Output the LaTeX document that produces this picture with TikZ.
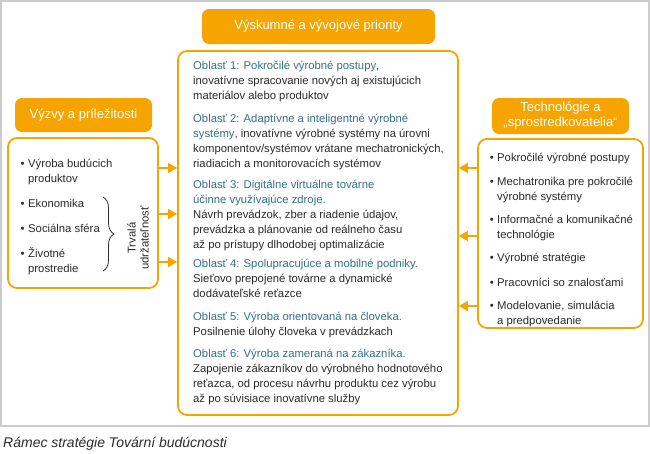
\documentclass[tikz,border=0pt]{standalone}
\usepackage{fontspec}
\setmainfont{Liberation Sans}
\usetikzlibrary{arrows.meta,decorations.pathreplacing}
\definecolor{org}{HTML}{F5A400}
\definecolor{hb}{HTML}{35708A}
\definecolor{txt}{HTML}{2B2B2B}
\definecolor{framegray}{HTML}{CCCCCC}
\newcommand\fst{\rule{0pt}{11pt}}
\newcommand\bul{\llap{•\hspace{3.5pt}}}
\tikzset{
  titlebox/.style={fill=org, rounded corners=7pt, text=white, align=center, inner sep=0pt,
    font=\fontsize{13}{15}\selectfont},
  panel/.style={draw=org, line width=1.8pt, rounded corners=9pt, fill=white, inner sep=0pt},
  para/.style={anchor=north west, inner sep=0pt, align=left, text=txt,
    font=\fontsize{11.3}{15}\selectfont},
  arr/.style={draw=org, line width=1.5pt, -{Triangle[length=9pt,width=10pt]}},
}
\begin{document}
\begin{tikzpicture}[x=1pt,y=-1pt]
\useasboundingbox (0,0) rectangle (650,453);
% outer frame
\draw[framegray, line width=1.5pt] (0.75,0.75) rectangle (649,426);

% panels
\node[panel, minimum width=150pt, minimum height=150pt] (left) at (83,213) {};
\node[panel, minimum width=280pt, minimum height=364pt] (center) at (318,233) {};
\node[panel, minimum width=165pt, minimum height=189pt] (right) at (560.5,233.5) {};

% titles
\node[titlebox, minimum width=233pt, minimum height=35pt] (head) at (318.5,26.5) {Výskumné a vývojové priority};
\node[titlebox, minimum width=137pt, minimum height=34pt] (ltitle) at (83.5,115) {Výzvy a príležitosti};
\node[titlebox, minimum width=137pt, minimum height=36pt] (rtitle) at (560.5,116) {Technológie a\\„sprostredkovatelia“};

% center paragraphs
\node[para] (o1) at (193,58) {\fst\textcolor{hb}{Oblasť 1: Pokročilé výrobné postupy},\\inovatívne spracovanie nových aj existujúcich\\materiálov alebo produktov};
\node[para] (o2) at (193,111) {\fst\textcolor{hb}{Oblasť 2: Adaptívne a inteligentné výrobné}\\\textcolor{hb}{systémy}, inovatívne výrobné systémy na úrovni\\komponentov/systémov vrátane mechatronických,\\riadiacich a monitorovacích systémov};
\node[para] (o3) at (193,177) {\fst\textcolor{hb}{Oblasť 3: Digitálne virtuálne továrne}\\\textcolor{hb}{účinne využívajúce zdroje.}\\Návrh prevádzok, zber a riadenie údajov,\\prevádzka a plánovanie od reálneho času\\až po prístupy dlhodobej optimalizácie};
\node[para] (o4) at (193,256) {\fst\textcolor{hb}{Oblasť 4: Spolupracujúce a mobilné podniky.}\\Sieťovo prepojené továrne a dynamické\\dodávateľské reťazce};
\node[para] (o5) at (193,309) {\fst\textcolor{hb}{Oblasť 5: Výroba orientovaná na človeka.}\\Posilnenie úlohy človeka v prevádzkach};
\node[para] (o6) at (193,346) {\fst\textcolor{hb}{Oblasť 6: Výroba zameraná na zákazníka.}\\Zapojenie zákazníkov do výrobného hodnotového\\reťazca, od procesu návrhu produktu cez výrobu\\až po súvisiace inovatívne služby};

% left list
\node[para] (l1) at (28,156) {\fst\bul Výroba budúcich\\produktov};
\node[para] (l2) at (28,196) {\fst\bul Ekonomika};
\node[para] (l3) at (28,221) {\fst\bul Sociálna sféra};
\node[para] (l4) at (28,246) {\fst\bul Životné\\prostredie};
\coordinate (brtop) at (103,197);
\coordinate (brbot) at (103,271);
\draw[txt, line width=0.8pt, decorate, decoration={brace, amplitude=11pt}] (brtop) -- (brbot);
\node[rotate=90, align=center, text=txt, inner sep=0pt, font=\fontsize{11.3}{13}\selectfont] (sust) at (138,238) {Trvalá\\udržateľnosť};

% right list
\node[para] (r1) at (497,150) {\fst\bul Pokročilé výrobné postupy};
\node[para] (r2) at (497,174) {\fst\bul Mechatronika pre pokročilé\\výrobné systémy};
\node[para] (r3) at (497,212) {\fst\bul Informačné a komunikačné\\technológie};
\node[para] (r4) at (497,250) {\fst\bul Výrobné stratégie};
\node[para] (r5) at (497,275) {\fst\bul Pracovníci so znalosťami};
\node[para] (r6) at (497,298) {\fst\bul Modelovanie, simulácia\\a predpovedanie};

% arrows
\draw[arr] (left.east |- 0,168) -- (center.west |- 0,168);
\draw[arr] (left.east |- 0,214) -- (center.west |- 0,214);
\draw[arr] (left.east |- 0,262) -- (center.west |- 0,262);
\draw[arr] (right.west |- 0,168) -- (center.east |- 0,168);
\draw[arr] (right.west |- 0,236) -- (center.east |- 0,236);
\draw[arr] (right.west |- 0,306) -- (center.east |- 0,306);

% caption
\node[anchor=base west, inner sep=0pt, text=txt, font=\fontsize{14}{16}\selectfont\itshape] (cap) at (3,447) {Rámec stratégie Tovární budúcnosti};
\end{tikzpicture}
\end{document}
